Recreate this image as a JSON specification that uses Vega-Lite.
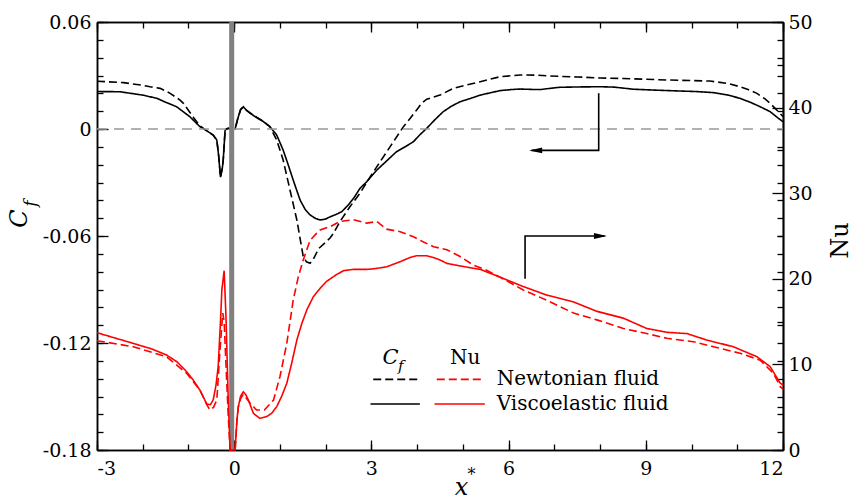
{
  "$schema": "https://vega.github.io/schema/vega-lite/v6.json",
  "width": 686,
  "height": 428,
  "autosize": {"type": "none"},
  "padding": {"left": 97, "top": 22, "right": 69, "bottom": 51},
  "background": "white",
  "config": {
    "view": {"stroke": null},
    "axis": {"grid": false, "domainColor": "#000", "domainWidth": 1.5, "tickColor": "#000", "tickWidth": 1.3, "labelFont": "DejaVu Serif", "labelFontSize": 19, "labelColor": "#000", "titleFont": "DejaVu Serif", "titleFontWeight": "normal", "titleColor": "#000"}
  },
  "datasets": {
    "cf": [
      {"x": -3, "value": 0.021, "quantity": "Cf", "fluid": "Viscoelastic fluid"},
      {"x": -2.5, "value": 0.0209, "quantity": "Cf", "fluid": "Viscoelastic fluid"},
      {"x": -2, "value": 0.019, "quantity": "Cf", "fluid": "Viscoelastic fluid"},
      {"x": -1.69, "value": 0.0172, "quantity": "Cf", "fluid": "Viscoelastic fluid"},
      {"x": -1.5, "value": 0.015, "quantity": "Cf", "fluid": "Viscoelastic fluid"},
      {"x": -1.26, "value": 0.0125, "quantity": "Cf", "fluid": "Viscoelastic fluid"},
      {"x": -0.97, "value": 0.0069, "quantity": "Cf", "fluid": "Viscoelastic fluid"},
      {"x": -0.75, "value": 0.0013, "quantity": "Cf", "fluid": "Viscoelastic fluid"},
      {"x": -0.6, "value": -0.001, "quantity": "Cf", "fluid": "Viscoelastic fluid"},
      {"x": -0.46, "value": -0.0034, "quantity": "Cf", "fluid": "Viscoelastic fluid"},
      {"x": -0.38, "value": -0.0062, "quantity": "Cf", "fluid": "Viscoelastic fluid"},
      {"x": -0.34, "value": -0.015, "quantity": "Cf", "fluid": "Viscoelastic fluid"},
      {"x": -0.3, "value": -0.027, "quantity": "Cf", "fluid": "Viscoelastic fluid"},
      {"x": -0.26, "value": -0.022, "quantity": "Cf", "fluid": "Viscoelastic fluid"},
      {"x": -0.24, "value": -0.0174, "quantity": "Cf", "fluid": "Viscoelastic fluid"},
      {"x": -0.2, "value": -0.001, "quantity": "Cf", "fluid": "Viscoelastic fluid"},
      {"x": -0.18, "value": 0, "quantity": "Cf", "fluid": "Viscoelastic fluid"},
      {"x": -0.12, "value": 0.0004, "quantity": "Cf", "fluid": "Viscoelastic fluid"},
      {"x": -0.05, "value": 0, "quantity": "Cf", "fluid": "Viscoelastic fluid"},
      {"x": 0.02, "value": 0, "quantity": "Cf", "fluid": "Viscoelastic fluid"},
      {"x": 0.08, "value": 0.006, "quantity": "Cf", "fluid": "Viscoelastic fluid"},
      {"x": 0.14, "value": 0.011, "quantity": "Cf", "fluid": "Viscoelastic fluid"},
      {"x": 0.2, "value": 0.0125, "quantity": "Cf", "fluid": "Viscoelastic fluid"},
      {"x": 0.27, "value": 0.0105, "quantity": "Cf", "fluid": "Viscoelastic fluid"},
      {"x": 0.35, "value": 0.0088, "quantity": "Cf", "fluid": "Viscoelastic fluid"},
      {"x": 0.5, "value": 0.0062, "quantity": "Cf", "fluid": "Viscoelastic fluid"},
      {"x": 0.64, "value": 0.0041, "quantity": "Cf", "fluid": "Viscoelastic fluid"},
      {"x": 0.78, "value": 0.0013, "quantity": "Cf", "fluid": "Viscoelastic fluid"},
      {"x": 0.93, "value": -0.0034, "quantity": "Cf", "fluid": "Viscoelastic fluid"},
      {"x": 1.07, "value": -0.0118, "quantity": "Cf", "fluid": "Viscoelastic fluid"},
      {"x": 1.18, "value": -0.02, "quantity": "Cf", "fluid": "Viscoelastic fluid"},
      {"x": 1.29, "value": -0.0286, "quantity": "Cf", "fluid": "Viscoelastic fluid"},
      {"x": 1.44, "value": -0.0398, "quantity": "Cf", "fluid": "Viscoelastic fluid"},
      {"x": 1.55, "value": -0.045, "quantity": "Cf", "fluid": "Viscoelastic fluid"},
      {"x": 1.66, "value": -0.0482, "quantity": "Cf", "fluid": "Viscoelastic fluid"},
      {"x": 1.78, "value": -0.0502, "quantity": "Cf", "fluid": "Viscoelastic fluid"},
      {"x": 1.88, "value": -0.051, "quantity": "Cf", "fluid": "Viscoelastic fluid"},
      {"x": 2, "value": -0.0505, "quantity": "Cf", "fluid": "Viscoelastic fluid"},
      {"x": 2.1, "value": -0.0492, "quantity": "Cf", "fluid": "Viscoelastic fluid"},
      {"x": 2.22, "value": -0.048, "quantity": "Cf", "fluid": "Viscoelastic fluid"},
      {"x": 2.35, "value": -0.0464, "quantity": "Cf", "fluid": "Viscoelastic fluid"},
      {"x": 2.48, "value": -0.043, "quantity": "Cf", "fluid": "Viscoelastic fluid"},
      {"x": 2.61, "value": -0.0389, "quantity": "Cf", "fluid": "Viscoelastic fluid"},
      {"x": 2.75, "value": -0.0333, "quantity": "Cf", "fluid": "Viscoelastic fluid"},
      {"x": 2.9, "value": -0.0295, "quantity": "Cf", "fluid": "Viscoelastic fluid"},
      {"x": 3.12, "value": -0.023, "quantity": "Cf", "fluid": "Viscoelastic fluid"},
      {"x": 3.35, "value": -0.0175, "quantity": "Cf", "fluid": "Viscoelastic fluid"},
      {"x": 3.55, "value": -0.0127, "quantity": "Cf", "fluid": "Viscoelastic fluid"},
      {"x": 3.75, "value": -0.0098, "quantity": "Cf", "fluid": "Viscoelastic fluid"},
      {"x": 3.92, "value": -0.0071, "quantity": "Cf", "fluid": "Viscoelastic fluid"},
      {"x": 4.05, "value": -0.0035, "quantity": "Cf", "fluid": "Viscoelastic fluid"},
      {"x": 4.21, "value": 0.0004, "quantity": "Cf", "fluid": "Viscoelastic fluid"},
      {"x": 4.4, "value": 0.0055, "quantity": "Cf", "fluid": "Viscoelastic fluid"},
      {"x": 4.57, "value": 0.0097, "quantity": "Cf", "fluid": "Viscoelastic fluid"},
      {"x": 4.75, "value": 0.0128, "quantity": "Cf", "fluid": "Viscoelastic fluid"},
      {"x": 4.94, "value": 0.0153, "quantity": "Cf", "fluid": "Viscoelastic fluid"},
      {"x": 5.15, "value": 0.017, "quantity": "Cf", "fluid": "Viscoelastic fluid"},
      {"x": 5.38, "value": 0.019, "quantity": "Cf", "fluid": "Viscoelastic fluid"},
      {"x": 5.6, "value": 0.0203, "quantity": "Cf", "fluid": "Viscoelastic fluid"},
      {"x": 5.81, "value": 0.0215, "quantity": "Cf", "fluid": "Viscoelastic fluid"},
      {"x": 6.05, "value": 0.0221, "quantity": "Cf", "fluid": "Viscoelastic fluid"},
      {"x": 6.25, "value": 0.0224, "quantity": "Cf", "fluid": "Viscoelastic fluid"},
      {"x": 6.5, "value": 0.0222, "quantity": "Cf", "fluid": "Viscoelastic fluid"},
      {"x": 6.69, "value": 0.0221, "quantity": "Cf", "fluid": "Viscoelastic fluid"},
      {"x": 6.91, "value": 0.0228, "quantity": "Cf", "fluid": "Viscoelastic fluid"},
      {"x": 7.12, "value": 0.0234, "quantity": "Cf", "fluid": "Viscoelastic fluid"},
      {"x": 7.6, "value": 0.0236, "quantity": "Cf", "fluid": "Viscoelastic fluid"},
      {"x": 8, "value": 0.0237, "quantity": "Cf", "fluid": "Viscoelastic fluid"},
      {"x": 8.3, "value": 0.0235, "quantity": "Cf", "fluid": "Viscoelastic fluid"},
      {"x": 8.73, "value": 0.0223, "quantity": "Cf", "fluid": "Viscoelastic fluid"},
      {"x": 9.2, "value": 0.0218, "quantity": "Cf", "fluid": "Viscoelastic fluid"},
      {"x": 9.75, "value": 0.0213, "quantity": "Cf", "fluid": "Viscoelastic fluid"},
      {"x": 10.1, "value": 0.021, "quantity": "Cf", "fluid": "Viscoelastic fluid"},
      {"x": 10.48, "value": 0.0204, "quantity": "Cf", "fluid": "Viscoelastic fluid"},
      {"x": 10.8, "value": 0.019, "quantity": "Cf", "fluid": "Viscoelastic fluid"},
      {"x": 11.06, "value": 0.0172, "quantity": "Cf", "fluid": "Viscoelastic fluid"},
      {"x": 11.3, "value": 0.0148, "quantity": "Cf", "fluid": "Viscoelastic fluid"},
      {"x": 11.5, "value": 0.0125, "quantity": "Cf", "fluid": "Viscoelastic fluid"},
      {"x": 11.72, "value": 0.0097, "quantity": "Cf", "fluid": "Viscoelastic fluid"},
      {"x": 11.9, "value": 0.006, "quantity": "Cf", "fluid": "Viscoelastic fluid"},
      {"x": 12, "value": 0.0041, "quantity": "Cf", "fluid": "Viscoelastic fluid"},
      {"x": -3, "value": 0.0268, "quantity": "Cf", "fluid": "Newtonian fluid"},
      {"x": -2.42, "value": 0.026, "quantity": "Cf", "fluid": "Newtonian fluid"},
      {"x": -2, "value": 0.0245, "quantity": "Cf", "fluid": "Newtonian fluid"},
      {"x": -1.84, "value": 0.0237, "quantity": "Cf", "fluid": "Newtonian fluid"},
      {"x": -1.62, "value": 0.0228, "quantity": "Cf", "fluid": "Newtonian fluid"},
      {"x": -1.4, "value": 0.02, "quantity": "Cf", "fluid": "Newtonian fluid"},
      {"x": -1.19, "value": 0.0163, "quantity": "Cf", "fluid": "Newtonian fluid"},
      {"x": -1.11, "value": 0.0144, "quantity": "Cf", "fluid": "Newtonian fluid"},
      {"x": -0.89, "value": 0.0065, "quantity": "Cf", "fluid": "Newtonian fluid"},
      {"x": -0.75, "value": 0.0018, "quantity": "Cf", "fluid": "Newtonian fluid"},
      {"x": -0.6, "value": -0.001, "quantity": "Cf", "fluid": "Newtonian fluid"},
      {"x": -0.46, "value": -0.0034, "quantity": "Cf", "fluid": "Newtonian fluid"},
      {"x": -0.38, "value": -0.0062, "quantity": "Cf", "fluid": "Newtonian fluid"},
      {"x": -0.34, "value": -0.015, "quantity": "Cf", "fluid": "Newtonian fluid"},
      {"x": -0.3, "value": -0.027, "quantity": "Cf", "fluid": "Newtonian fluid"},
      {"x": -0.26, "value": -0.022, "quantity": "Cf", "fluid": "Newtonian fluid"},
      {"x": -0.24, "value": -0.0174, "quantity": "Cf", "fluid": "Newtonian fluid"},
      {"x": -0.2, "value": -0.001, "quantity": "Cf", "fluid": "Newtonian fluid"},
      {"x": -0.18, "value": 0, "quantity": "Cf", "fluid": "Newtonian fluid"},
      {"x": -0.12, "value": 0.0004, "quantity": "Cf", "fluid": "Newtonian fluid"},
      {"x": -0.05, "value": 0, "quantity": "Cf", "fluid": "Newtonian fluid"},
      {"x": 0.02, "value": 0, "quantity": "Cf", "fluid": "Newtonian fluid"},
      {"x": 0.08, "value": 0.006, "quantity": "Cf", "fluid": "Newtonian fluid"},
      {"x": 0.14, "value": 0.0108, "quantity": "Cf", "fluid": "Newtonian fluid"},
      {"x": 0.2, "value": 0.0122, "quantity": "Cf", "fluid": "Newtonian fluid"},
      {"x": 0.27, "value": 0.0105, "quantity": "Cf", "fluid": "Newtonian fluid"},
      {"x": 0.35, "value": 0.009, "quantity": "Cf", "fluid": "Newtonian fluid"},
      {"x": 0.5, "value": 0.0065, "quantity": "Cf", "fluid": "Newtonian fluid"},
      {"x": 0.64, "value": 0.0043, "quantity": "Cf", "fluid": "Newtonian fluid"},
      {"x": 0.78, "value": 0.0013, "quantity": "Cf", "fluid": "Newtonian fluid"},
      {"x": 0.93, "value": -0.0062, "quantity": "Cf", "fluid": "Newtonian fluid"},
      {"x": 1.07, "value": -0.0174, "quantity": "Cf", "fluid": "Newtonian fluid"},
      {"x": 1.22, "value": -0.0342, "quantity": "Cf", "fluid": "Newtonian fluid"},
      {"x": 1.37, "value": -0.051, "quantity": "Cf", "fluid": "Newtonian fluid"},
      {"x": 1.51, "value": -0.0716, "quantity": "Cf", "fluid": "Newtonian fluid"},
      {"x": 1.58, "value": -0.0745, "quantity": "Cf", "fluid": "Newtonian fluid"},
      {"x": 1.66, "value": -0.0753, "quantity": "Cf", "fluid": "Newtonian fluid"},
      {"x": 1.74, "value": -0.0725, "quantity": "Cf", "fluid": "Newtonian fluid"},
      {"x": 1.85, "value": -0.067, "quantity": "Cf", "fluid": "Newtonian fluid"},
      {"x": 2, "value": -0.0635, "quantity": "Cf", "fluid": "Newtonian fluid"},
      {"x": 2.1, "value": -0.061, "quantity": "Cf", "fluid": "Newtonian fluid"},
      {"x": 2.17, "value": -0.0585, "quantity": "Cf", "fluid": "Newtonian fluid"},
      {"x": 2.31, "value": -0.052, "quantity": "Cf", "fluid": "Newtonian fluid"},
      {"x": 2.53, "value": -0.0436, "quantity": "Cf", "fluid": "Newtonian fluid"},
      {"x": 2.75, "value": -0.036, "quantity": "Cf", "fluid": "Newtonian fluid"},
      {"x": 2.93, "value": -0.0286, "quantity": "Cf", "fluid": "Newtonian fluid"},
      {"x": 3.12, "value": -0.0211, "quantity": "Cf", "fluid": "Newtonian fluid"},
      {"x": 3.41, "value": -0.0099, "quantity": "Cf", "fluid": "Newtonian fluid"},
      {"x": 3.7, "value": 0.0013, "quantity": "Cf", "fluid": "Newtonian fluid"},
      {"x": 3.85, "value": 0.006, "quantity": "Cf", "fluid": "Newtonian fluid"},
      {"x": 3.99, "value": 0.0107, "quantity": "Cf", "fluid": "Newtonian fluid"},
      {"x": 4.1, "value": 0.0145, "quantity": "Cf", "fluid": "Newtonian fluid"},
      {"x": 4.21, "value": 0.0167, "quantity": "Cf", "fluid": "Newtonian fluid"},
      {"x": 4.5, "value": 0.019, "quantity": "Cf", "fluid": "Newtonian fluid"},
      {"x": 4.79, "value": 0.0228, "quantity": "Cf", "fluid": "Newtonian fluid"},
      {"x": 5.1, "value": 0.0248, "quantity": "Cf", "fluid": "Newtonian fluid"},
      {"x": 5.38, "value": 0.0265, "quantity": "Cf", "fluid": "Newtonian fluid"},
      {"x": 5.81, "value": 0.0293, "quantity": "Cf", "fluid": "Newtonian fluid"},
      {"x": 6.25, "value": 0.0303, "quantity": "Cf", "fluid": "Newtonian fluid"},
      {"x": 6.6, "value": 0.0302, "quantity": "Cf", "fluid": "Newtonian fluid"},
      {"x": 6.91, "value": 0.0297, "quantity": "Cf", "fluid": "Newtonian fluid"},
      {"x": 7.5, "value": 0.0292, "quantity": "Cf", "fluid": "Newtonian fluid"},
      {"x": 8, "value": 0.0286, "quantity": "Cf", "fluid": "Newtonian fluid"},
      {"x": 8.5, "value": 0.0283, "quantity": "Cf", "fluid": "Newtonian fluid"},
      {"x": 9.46, "value": 0.0275, "quantity": "Cf", "fluid": "Newtonian fluid"},
      {"x": 10.4, "value": 0.0269, "quantity": "Cf", "fluid": "Newtonian fluid"},
      {"x": 10.8, "value": 0.0255, "quantity": "Cf", "fluid": "Newtonian fluid"},
      {"x": 11.06, "value": 0.0237, "quantity": "Cf", "fluid": "Newtonian fluid"},
      {"x": 11.25, "value": 0.022, "quantity": "Cf", "fluid": "Newtonian fluid"},
      {"x": 11.43, "value": 0.02, "quantity": "Cf", "fluid": "Newtonian fluid"},
      {"x": 11.6, "value": 0.017, "quantity": "Cf", "fluid": "Newtonian fluid"},
      {"x": 11.72, "value": 0.0144, "quantity": "Cf", "fluid": "Newtonian fluid"},
      {"x": 11.85, "value": 0.011, "quantity": "Cf", "fluid": "Newtonian fluid"},
      {"x": 12, "value": 0.007, "quantity": "Cf", "fluid": "Newtonian fluid"}
    ],
    "nu": [
      {"x": -3, "value": 13.7, "quantity": "Nu", "fluid": "Viscoelastic fluid"},
      {"x": -2.21, "value": 12.46, "quantity": "Nu", "fluid": "Viscoelastic fluid"},
      {"x": -1.8, "value": 11.8, "quantity": "Nu", "fluid": "Viscoelastic fluid"},
      {"x": -1.48, "value": 11.1, "quantity": "Nu", "fluid": "Viscoelastic fluid"},
      {"x": -1.25, "value": 10.3, "quantity": "Nu", "fluid": "Viscoelastic fluid"},
      {"x": -1.04, "value": 9.15, "quantity": "Nu", "fluid": "Viscoelastic fluid"},
      {"x": -0.9, "value": 8.2, "quantity": "Nu", "fluid": "Viscoelastic fluid"},
      {"x": -0.75, "value": 7.0, "quantity": "Nu", "fluid": "Viscoelastic fluid"},
      {"x": -0.6, "value": 5.37, "quantity": "Nu", "fluid": "Viscoelastic fluid"},
      {"x": -0.52, "value": 5.3, "quantity": "Nu", "fluid": "Viscoelastic fluid"},
      {"x": -0.46, "value": 5.84, "quantity": "Nu", "fluid": "Viscoelastic fluid"},
      {"x": -0.4, "value": 7.5, "quantity": "Nu", "fluid": "Viscoelastic fluid"},
      {"x": -0.35, "value": 9.73, "quantity": "Nu", "fluid": "Viscoelastic fluid"},
      {"x": -0.3, "value": 15.0, "quantity": "Nu", "fluid": "Viscoelastic fluid"},
      {"x": -0.27, "value": 18.7, "quantity": "Nu", "fluid": "Viscoelastic fluid"},
      {"x": -0.22, "value": 20.95, "quantity": "Nu", "fluid": "Viscoelastic fluid"},
      {"x": -0.18, "value": 15.6, "quantity": "Nu", "fluid": "Viscoelastic fluid"},
      {"x": -0.13, "value": 5.84, "quantity": "Nu", "fluid": "Viscoelastic fluid"},
      {"x": -0.09, "value": 0, "quantity": "Nu", "fluid": "Viscoelastic fluid"},
      {"x": 0.02, "value": 0, "quantity": "Nu", "fluid": "Viscoelastic fluid"},
      {"x": 0.06, "value": 3.5, "quantity": "Nu", "fluid": "Viscoelastic fluid"},
      {"x": 0.09, "value": 5.06, "quantity": "Nu", "fluid": "Viscoelastic fluid"},
      {"x": 0.14, "value": 6.3, "quantity": "Nu", "fluid": "Viscoelastic fluid"},
      {"x": 0.2, "value": 6.8, "quantity": "Nu", "fluid": "Viscoelastic fluid"},
      {"x": 0.25, "value": 6.5, "quantity": "Nu", "fluid": "Viscoelastic fluid"},
      {"x": 0.31, "value": 5.84, "quantity": "Nu", "fluid": "Viscoelastic fluid"},
      {"x": 0.42, "value": 4.28, "quantity": "Nu", "fluid": "Viscoelastic fluid"},
      {"x": 0.56, "value": 3.7, "quantity": "Nu", "fluid": "Viscoelastic fluid"},
      {"x": 0.71, "value": 3.9, "quantity": "Nu", "fluid": "Viscoelastic fluid"},
      {"x": 0.82, "value": 4.3, "quantity": "Nu", "fluid": "Viscoelastic fluid"},
      {"x": 0.93, "value": 5.06, "quantity": "Nu", "fluid": "Viscoelastic fluid"},
      {"x": 1.04, "value": 6.3, "quantity": "Nu", "fluid": "Viscoelastic fluid"},
      {"x": 1.15, "value": 7.8, "quantity": "Nu", "fluid": "Viscoelastic fluid"},
      {"x": 1.26, "value": 10.2, "quantity": "Nu", "fluid": "Viscoelastic fluid"},
      {"x": 1.37, "value": 12.85, "quantity": "Nu", "fluid": "Viscoelastic fluid"},
      {"x": 1.48, "value": 14.8, "quantity": "Nu", "fluid": "Viscoelastic fluid"},
      {"x": 1.59, "value": 16.4, "quantity": "Nu", "fluid": "Viscoelastic fluid"},
      {"x": 1.73, "value": 17.9, "quantity": "Nu", "fluid": "Viscoelastic fluid"},
      {"x": 1.88, "value": 18.9, "quantity": "Nu", "fluid": "Viscoelastic fluid"},
      {"x": 2.02, "value": 19.7, "quantity": "Nu", "fluid": "Viscoelastic fluid"},
      {"x": 2.24, "value": 20.5, "quantity": "Nu", "fluid": "Viscoelastic fluid"},
      {"x": 2.39, "value": 20.95, "quantity": "Nu", "fluid": "Viscoelastic fluid"},
      {"x": 2.6, "value": 21.1, "quantity": "Nu", "fluid": "Viscoelastic fluid"},
      {"x": 2.9, "value": 21.1, "quantity": "Nu", "fluid": "Viscoelastic fluid"},
      {"x": 3.1, "value": 21.2, "quantity": "Nu", "fluid": "Viscoelastic fluid"},
      {"x": 3.33, "value": 21.4, "quantity": "Nu", "fluid": "Viscoelastic fluid"},
      {"x": 3.63, "value": 22.0, "quantity": "Nu", "fluid": "Viscoelastic fluid"},
      {"x": 3.85, "value": 22.5, "quantity": "Nu", "fluid": "Viscoelastic fluid"},
      {"x": 3.99, "value": 22.7, "quantity": "Nu", "fluid": "Viscoelastic fluid"},
      {"x": 4.21, "value": 22.7, "quantity": "Nu", "fluid": "Viscoelastic fluid"},
      {"x": 4.35, "value": 22.5, "quantity": "Nu", "fluid": "Viscoelastic fluid"},
      {"x": 4.5, "value": 22.2, "quantity": "Nu", "fluid": "Viscoelastic fluid"},
      {"x": 4.65, "value": 21.8, "quantity": "Nu", "fluid": "Viscoelastic fluid"},
      {"x": 4.94, "value": 21.5, "quantity": "Nu", "fluid": "Viscoelastic fluid"},
      {"x": 5.38, "value": 21.1, "quantity": "Nu", "fluid": "Viscoelastic fluid"},
      {"x": 5.81, "value": 20.2, "quantity": "Nu", "fluid": "Viscoelastic fluid"},
      {"x": 6.32, "value": 19.1, "quantity": "Nu", "fluid": "Viscoelastic fluid"},
      {"x": 6.83, "value": 18.1, "quantity": "Nu", "fluid": "Viscoelastic fluid"},
      {"x": 7.42, "value": 17.3, "quantity": "Nu", "fluid": "Viscoelastic fluid"},
      {"x": 7.93, "value": 16.2, "quantity": "Nu", "fluid": "Viscoelastic fluid"},
      {"x": 8.51, "value": 15.4, "quantity": "Nu", "fluid": "Viscoelastic fluid"},
      {"x": 9.02, "value": 14.2, "quantity": "Nu", "fluid": "Viscoelastic fluid"},
      {"x": 9.46, "value": 13.75, "quantity": "Nu", "fluid": "Viscoelastic fluid"},
      {"x": 9.9, "value": 13.6, "quantity": "Nu", "fluid": "Viscoelastic fluid"},
      {"x": 10.33, "value": 12.85, "quantity": "Nu", "fluid": "Viscoelastic fluid"},
      {"x": 10.91, "value": 12.07, "quantity": "Nu", "fluid": "Viscoelastic fluid"},
      {"x": 11.43, "value": 10.9, "quantity": "Nu", "fluid": "Viscoelastic fluid"},
      {"x": 11.72, "value": 9.73, "quantity": "Nu", "fluid": "Viscoelastic fluid"},
      {"x": 11.94, "value": 7.8, "quantity": "Nu", "fluid": "Viscoelastic fluid"},
      {"x": 12, "value": 7.6, "quantity": "Nu", "fluid": "Viscoelastic fluid"},
      {"x": -3, "value": 12.77, "quantity": "Nu", "fluid": "Newtonian fluid"},
      {"x": -2.21, "value": 12.07, "quantity": "Nu", "fluid": "Newtonian fluid"},
      {"x": -1.48, "value": 10.9, "quantity": "Nu", "fluid": "Newtonian fluid"},
      {"x": -1.04, "value": 8.96, "quantity": "Nu", "fluid": "Newtonian fluid"},
      {"x": -0.75, "value": 7.0, "quantity": "Nu", "fluid": "Newtonian fluid"},
      {"x": -0.6, "value": 5.3, "quantity": "Nu", "fluid": "Newtonian fluid"},
      {"x": -0.53, "value": 4.67, "quantity": "Nu", "fluid": "Newtonian fluid"},
      {"x": -0.45, "value": 5.0, "quantity": "Nu", "fluid": "Newtonian fluid"},
      {"x": -0.38, "value": 5.84, "quantity": "Nu", "fluid": "Newtonian fluid"},
      {"x": -0.31, "value": 11.7, "quantity": "Nu", "fluid": "Newtonian fluid"},
      {"x": -0.25, "value": 16.0, "quantity": "Nu", "fluid": "Newtonian fluid"},
      {"x": -0.22, "value": 15.0, "quantity": "Nu", "fluid": "Newtonian fluid"},
      {"x": -0.18, "value": 10.0, "quantity": "Nu", "fluid": "Newtonian fluid"},
      {"x": -0.13, "value": 4.0, "quantity": "Nu", "fluid": "Newtonian fluid"},
      {"x": -0.09, "value": 0, "quantity": "Nu", "fluid": "Newtonian fluid"},
      {"x": 0.02, "value": 0, "quantity": "Nu", "fluid": "Newtonian fluid"},
      {"x": 0.06, "value": 3.5, "quantity": "Nu", "fluid": "Newtonian fluid"},
      {"x": 0.09, "value": 5.0, "quantity": "Nu", "fluid": "Newtonian fluid"},
      {"x": 0.14, "value": 6.0, "quantity": "Nu", "fluid": "Newtonian fluid"},
      {"x": 0.2, "value": 6.5, "quantity": "Nu", "fluid": "Newtonian fluid"},
      {"x": 0.27, "value": 6.0, "quantity": "Nu", "fluid": "Newtonian fluid"},
      {"x": 0.35, "value": 5.45, "quantity": "Nu", "fluid": "Newtonian fluid"},
      {"x": 0.49, "value": 4.67, "quantity": "Nu", "fluid": "Newtonian fluid"},
      {"x": 0.66, "value": 4.67, "quantity": "Nu", "fluid": "Newtonian fluid"},
      {"x": 0.86, "value": 5.84, "quantity": "Nu", "fluid": "Newtonian fluid"},
      {"x": 1.0, "value": 8.56, "quantity": "Nu", "fluid": "Newtonian fluid"},
      {"x": 1.15, "value": 12.46, "quantity": "Nu", "fluid": "Newtonian fluid"},
      {"x": 1.29, "value": 17.5, "quantity": "Nu", "fluid": "Newtonian fluid"},
      {"x": 1.4, "value": 20.2, "quantity": "Nu", "fluid": "Newtonian fluid"},
      {"x": 1.51, "value": 22.2, "quantity": "Nu", "fluid": "Newtonian fluid"},
      {"x": 1.6, "value": 23.6, "quantity": "Nu", "fluid": "Newtonian fluid"},
      {"x": 1.66, "value": 24.5, "quantity": "Nu", "fluid": "Newtonian fluid"},
      {"x": 1.8, "value": 25.3, "quantity": "Nu", "fluid": "Newtonian fluid"},
      {"x": 1.88, "value": 25.7, "quantity": "Nu", "fluid": "Newtonian fluid"},
      {"x": 2.1, "value": 26.1, "quantity": "Nu", "fluid": "Newtonian fluid"},
      {"x": 2.31, "value": 26.7, "quantity": "Nu", "fluid": "Newtonian fluid"},
      {"x": 2.61, "value": 26.9, "quantity": "Nu", "fluid": "Newtonian fluid"},
      {"x": 2.9, "value": 26.5, "quantity": "Nu", "fluid": "Newtonian fluid"},
      {"x": 3.12, "value": 26.7, "quantity": "Nu", "fluid": "Newtonian fluid"},
      {"x": 3.33, "value": 25.8, "quantity": "Nu", "fluid": "Newtonian fluid"},
      {"x": 3.63, "value": 25.5, "quantity": "Nu", "fluid": "Newtonian fluid"},
      {"x": 3.92, "value": 24.9, "quantity": "Nu", "fluid": "Newtonian fluid"},
      {"x": 4.14, "value": 24.3, "quantity": "Nu", "fluid": "Newtonian fluid"},
      {"x": 4.36, "value": 23.75, "quantity": "Nu", "fluid": "Newtonian fluid"},
      {"x": 4.65, "value": 23.4, "quantity": "Nu", "fluid": "Newtonian fluid"},
      {"x": 4.94, "value": 22.6, "quantity": "Nu", "fluid": "Newtonian fluid"},
      {"x": 5.23, "value": 21.6, "quantity": "Nu", "fluid": "Newtonian fluid"},
      {"x": 5.52, "value": 21.0, "quantity": "Nu", "fluid": "Newtonian fluid"},
      {"x": 5.81, "value": 20.2, "quantity": "Nu", "fluid": "Newtonian fluid"},
      {"x": 6.32, "value": 18.7, "quantity": "Nu", "fluid": "Newtonian fluid"},
      {"x": 6.83, "value": 17.5, "quantity": "Nu", "fluid": "Newtonian fluid"},
      {"x": 7.42, "value": 16.0, "quantity": "Nu", "fluid": "Newtonian fluid"},
      {"x": 7.93, "value": 15.2, "quantity": "Nu", "fluid": "Newtonian fluid"},
      {"x": 8.51, "value": 14.2, "quantity": "Nu", "fluid": "Newtonian fluid"},
      {"x": 9.02, "value": 13.6, "quantity": "Nu", "fluid": "Newtonian fluid"},
      {"x": 9.46, "value": 13.05, "quantity": "Nu", "fluid": "Newtonian fluid"},
      {"x": 10.04, "value": 12.65, "quantity": "Nu", "fluid": "Newtonian fluid"},
      {"x": 10.48, "value": 12.07, "quantity": "Nu", "fluid": "Newtonian fluid"},
      {"x": 11.06, "value": 11.3, "quantity": "Nu", "fluid": "Newtonian fluid"},
      {"x": 11.5, "value": 10.5, "quantity": "Nu", "fluid": "Newtonian fluid"},
      {"x": 11.79, "value": 8.96, "quantity": "Nu", "fluid": "Newtonian fluid"},
      {"x": 11.94, "value": 7.4, "quantity": "Nu", "fluid": "Newtonian fluid"},
      {"x": 12, "value": 7.1, "quantity": "Nu", "fluid": "Newtonian fluid"}
    ],
    "arrowCf": [
      {"i": 0, "x": 7.97, "value": 0.02},
      {"i": 1, "x": 7.97, "value": -0.012},
      {"i": 2, "x": 6.5, "value": -0.012}
    ],
    "arrowNu": [
      {"i": 0, "x": 6.36, "value": 20},
      {"i": 1, "x": 6.36, "value": 25},
      {"i": 2, "x": 8.1, "value": 25}
    ],
    "legendLines": [
      {"quantity": "Cf", "fluid": "Newtonian fluid", "x": 3.04, "x2": 4.06, "value": -0.1404},
      {"quantity": "Nu", "fluid": "Newtonian fluid", "x": 4.43, "x2": 5.48, "value": -0.1404},
      {"quantity": "Cf", "fluid": "Viscoelastic fluid", "x": 2.98, "x2": 4.06, "value": -0.1542},
      {"quantity": "Nu", "fluid": "Viscoelastic fluid", "x": 4.38, "x2": 5.48, "value": -0.1542}
    ]
  },
  "resolve": {"scale": {"y": "independent"}, "axis": {"x": "independent", "y": "independent"}},
  "layer": [
    {
      "data": {"name": "cf"},
      "mark": {"type": "line", "strokeWidth": 1.6},
      "encoding": {
        "x": {"field": "x", "type": "quantitative", "scale": {"domain": [-3, 12], "nice": false, "zero": false},
          "axis": {"orient": "bottom", "values": [-3, 0, 3, 6, 9, 12], "tickSize": -10, "labelPadding": 19,
            "labelExpr": "datum.value < 0 ? '-' + (-datum.value) : '' + datum.value",
            "title": "x", "titleFontStyle": "italic", "titleFontSize": 24, "titleX": 364, "titleY": 37, "titleAlign": "center", "titleBaseline": "middle", "titleAngle": 0}},
        "y": {"field": "value", "type": "quantitative", "scale": {"domain": [-0.18, 0.06], "nice": false, "zero": false},
          "axis": {"orient": "left", "values": [-0.18, -0.12, -0.06, 0, 0.06], "tickSize": -11, "labelPadding": 17,
            "labelExpr": "datum.value == 0 ? '0' : (datum.value < 0 ? '-' + format(-datum.value, '.2f') : format(datum.value, '.2f'))",
            "title": "C", "titleFontStyle": "italic", "titleFontSize": 24, "titleAngle": -90, "titleX": -78, "titleY": 196, "titleAlign": "center", "titleBaseline": "middle"}},
        "color": {"field": "quantity", "type": "nominal", "scale": {"domain": ["Cf", "Nu"], "range": ["#000000", "#ff0000"]}, "legend": null},
        "strokeDash": {"field": "fluid", "type": "nominal", "scale": {"domain": ["Newtonian fluid", "Viscoelastic fluid"], "range": [[8, 4], [1, 0]]}, "legend": null}
      }
    },
    {
      "data": {"values": [{"x": -0.11, "x2": 0, "value": -0.18, "value2": 0.06}]},
      "mark": {"type": "rect", "color": "#808080"},
      "encoding": {
        "x": {"field": "x", "type": "quantitative", "scale": {"domain": [-3, 12], "nice": false, "zero": false},
          "axis": {"orient": "top", "values": [-3, 0, 3, 6, 9, 12], "tickSize": -10, "labels": false, "title": null}},
        "x2": {"field": "x2"},
        "y": {"field": "value", "type": "quantitative", "scale": {"domain": [-0.18, 0.06], "nice": false, "zero": false},
          "axis": {"orient": "left", "values": [-0.18, -0.17, -0.16, -0.15, -0.14, -0.13, -0.12, -0.11, -0.1, -0.09, -0.08, -0.07, -0.06, -0.05, -0.04, -0.03, -0.02, -0.01, 0, 0.01, 0.02, 0.03, 0.04, 0.05, 0.06], "tickSize": -6, "labels": false,
            "title": "f", "titleFontStyle": "italic", "titleFontSize": 17, "titleAngle": -90, "titleX": -67, "titleY": 181, "titleAlign": "center", "titleBaseline": "middle"}},
        "y2": {"field": "value2"}
      }
    },
    {
      "data": {"name": "nu"},
      "mark": {"type": "line", "strokeWidth": 1.6},
      "encoding": {
        "x": {"field": "x", "type": "quantitative", "scale": {"domain": [-3, 12], "nice": false, "zero": false},
          "axis": {"orient": "bottom", "values": [-3, -2, -1, 0, 1, 2, 3, 4, 5, 6, 7, 8, 9, 10, 11, 12], "tickSize": -6, "labels": false,
            "title": "*", "titleFontSize": 16, "titleX": 374, "titleY": 24, "titleAlign": "center", "titleBaseline": "middle"}},
        "y": {"field": "value", "type": "quantitative", "scale": {"domain": [0, 50], "nice": false, "zero": false},
          "axis": {"orient": "right", "values": [0, 10, 20, 30, 40, 50], "tickSize": -11, "labelPadding": 16,
            "title": "Nu", "titleFontSize": 24, "titleAngle": -90, "titleX": 57, "titleY": 218, "titleAlign": "center", "titleBaseline": "middle"}},
        "color": {"field": "quantity", "type": "nominal", "legend": null},
        "strokeDash": {"field": "fluid", "type": "nominal", "legend": null}
      }
    },
    {
      "data": {"values": [{"x": -3, "x2": 12, "value": 0}]},
      "mark": {"type": "rule", "color": "#999999", "strokeWidth": 1.3, "strokeDash": [10, 7]},
      "encoding": {
        "x": {"field": "x", "type": "quantitative", "scale": {"domain": [-3, 12], "nice": false, "zero": false},
          "axis": {"orient": "top", "values": [-3, -2, -1, 0, 1, 2, 3, 4, 5, 6, 7, 8, 9, 10, 11, 12], "tickSize": -6, "labels": false, "title": null}},
        "x2": {"field": "x2"},
        "y": {"field": "value", "type": "quantitative", "scale": {"domain": [-0.18, 0.06], "nice": false, "zero": false},
          "axis": {"orient": "right", "values": [-0.18, -0.17, -0.16, -0.15, -0.14, -0.13, -0.12, -0.11, -0.1, -0.09, -0.08, -0.07, -0.06, -0.05, -0.04, -0.03, -0.02, -0.01, 0, 0.01, 0.02, 0.03, 0.04, 0.05, 0.06], "tickSize": -6, "labels": false, "title": null}}
      }
    },
    {
      "data": {"name": "arrowNu"},
      "mark": {"type": "line", "color": "#000", "strokeWidth": 1.6},
      "encoding": {
        "x": {"field": "x", "type": "quantitative", "scale": {"domain": [-3, 12], "nice": false, "zero": false}, "axis": null},
        "y": {"field": "value", "type": "quantitative", "scale": {"domain": [0, 50], "nice": false, "zero": false},
          "axis": {"orient": "right", "values": [5, 15, 25, 35, 45], "tickSize": -6, "labels": false, "title": null}},
        "order": {"field": "i", "type": "quantitative"}
      }
    },
    {
      "data": {"name": "arrowCf"},
      "mark": {"type": "line", "color": "#000", "strokeWidth": 1.6},
      "encoding": {
        "x": {"field": "x", "type": "quantitative", "scale": {"domain": [-3, 12], "nice": false, "zero": false}, "axis": null},
        "y": {"field": "value", "type": "quantitative", "scale": {"domain": [-0.18, 0.06], "nice": false, "zero": false}, "axis": null},
        "order": {"field": "i", "type": "quantitative"}
      }
    },
    {
      "data": {"values": [{"x": 6.45, "value": -0.012}]},
      "mark": {"type": "point", "shape": "M 0 0 L 2 -0.45 L 2 0.45 Z", "size": 169, "filled": true, "color": "#000", "opacity": 1},
      "encoding": {
        "x": {"field": "x", "type": "quantitative", "scale": {"domain": [-3, 12], "nice": false, "zero": false}, "axis": null},
        "y": {"field": "value", "type": "quantitative", "scale": {"domain": [-0.18, 0.06], "nice": false, "zero": false}, "axis": null}
      }
    },
    {
      "data": {"values": [{"x": 8.15, "value": 25}]},
      "mark": {"type": "point", "shape": "M 0 0 L -2 -0.45 L -2 0.45 Z", "size": 169, "filled": true, "color": "#000", "opacity": 1},
      "encoding": {
        "x": {"field": "x", "type": "quantitative", "scale": {"domain": [-3, 12], "nice": false, "zero": false}, "axis": null},
        "y": {"field": "value", "type": "quantitative", "scale": {"domain": [0, 50], "nice": false, "zero": false}, "axis": null}
      }
    },
    {
      "data": {"name": "legendLines"},
      "mark": {"type": "rule", "strokeWidth": 1.6},
      "encoding": {
        "x": {"field": "x", "type": "quantitative", "scale": {"domain": [-3, 12], "nice": false, "zero": false}, "axis": null},
        "x2": {"field": "x2"},
        "y": {"field": "value", "type": "quantitative", "scale": {"domain": [-0.18, 0.06], "nice": false, "zero": false}, "axis": null},
        "color": {"field": "quantity", "type": "nominal", "legend": null},
        "strokeDash": {"field": "fluid", "type": "nominal", "legend": null}
      }
    },
    {
      "data": {"values": [{"label": "Newtonian fluid", "x": 5.74, "value": -0.1404}, {"label": "Viscoelastic fluid", "x": 5.74, "value": -0.1542}]},
      "mark": {"type": "text", "align": "left", "baseline": "middle", "font": "DejaVu Serif", "fontSize": 20, "color": "#000"},
      "encoding": {
        "x": {"field": "x", "type": "quantitative", "scale": {"domain": [-3, 12], "nice": false, "zero": false}, "axis": null},
        "y": {"field": "value", "type": "quantitative", "scale": {"domain": [-0.18, 0.06], "nice": false, "zero": false}, "axis": null},
        "text": {"field": "label"}
      }
    },
    {
      "data": {"values": [{"label": "Nu", "x": 5.05, "value": -0.1284}]},
      "mark": {"type": "text", "align": "center", "baseline": "middle", "font": "DejaVu Serif", "fontSize": 20, "color": "#000"},
      "encoding": {
        "x": {"field": "x", "type": "quantitative", "scale": {"domain": [-3, 12], "nice": false, "zero": false}, "axis": null},
        "y": {"field": "value", "type": "quantitative", "scale": {"domain": [-0.18, 0.06], "nice": false, "zero": false}, "axis": null},
        "text": {"field": "label"}
      }
    },
    {
      "data": {"values": [{"label": "C", "x": 3.42, "value": -0.1284}]},
      "mark": {"type": "text", "align": "center", "baseline": "middle", "font": "DejaVu Serif", "fontStyle": "italic", "fontSize": 21, "color": "#000"},
      "encoding": {
        "x": {"field": "x", "type": "quantitative", "scale": {"domain": [-3, 12], "nice": false, "zero": false}, "axis": null},
        "y": {"field": "value", "type": "quantitative", "scale": {"domain": [-0.18, 0.06], "nice": false, "zero": false}, "axis": null},
        "text": {"field": "label"}
      }
    },
    {
      "data": {"values": [{"label": "f", "x": 3.64, "value": -0.1328}]},
      "mark": {"type": "text", "align": "center", "baseline": "middle", "font": "DejaVu Serif", "fontStyle": "italic", "fontSize": 15, "color": "#000"},
      "encoding": {
        "x": {"field": "x", "type": "quantitative", "scale": {"domain": [-3, 12], "nice": false, "zero": false}, "axis": null},
        "y": {"field": "value", "type": "quantitative", "scale": {"domain": [-0.18, 0.06], "nice": false, "zero": false}, "axis": null},
        "text": {"field": "label"}
      }
    }
  ]
}
